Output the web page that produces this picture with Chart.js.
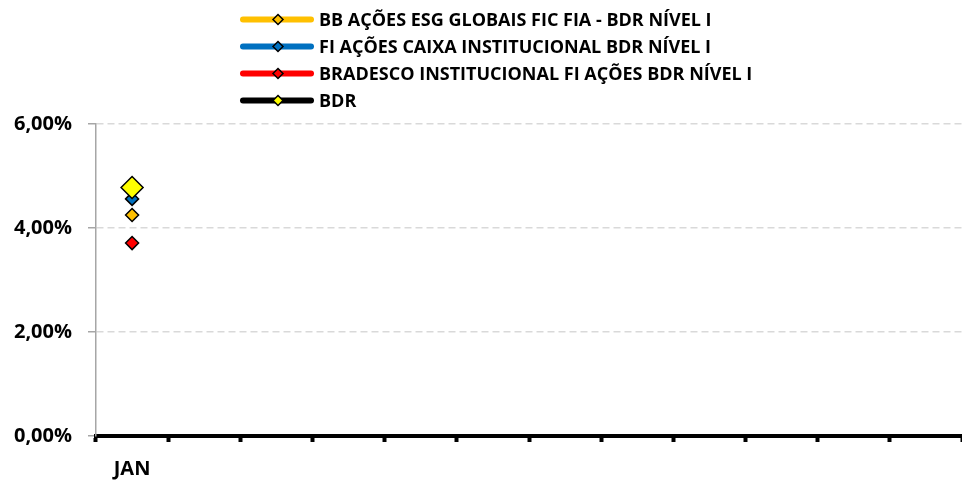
<!DOCTYPE html>
<html>
<head>
<meta charset="utf-8">
<script src="https://cdn.jsdelivr.net/npm/chart.js@4/dist/chart.umd.min.js"></script>
<style>
  html, body { margin: 0; padding: 0; overflow: hidden; background: #fff; }
  #wrap { width: 962px; height: 481px; position: relative; }
  #wrap canvas { display: block; }
</style>
</head>
<body>
<div id="wrap"><canvas id="chart"></canvas></div>
<script>
// months on the x axis (only JAN carries a label in the original)
const months = ["JAN", "", "", "", "", "", "", "", "", "", "", ""];

// monthly returns, % (only January is filled)
const bbEsg = [4.25, null, null, null, null, null, null, null, null, null, null, null];
const caixaInst = [4.56, null, null, null, null, null, null, null, null, null, null, null];
const bradescoInst = [3.71, null, null, null, null, null, null, null, null, null, null, null];
const bdrIndex = [4.78, null, null, null, null, null, null, null, null, null, null, null];

const seriesNames = [
  "BB AÇÕES ESG GLOBAIS FIC FIA - BDR NÍVEL I",
  "FI AÇÕES CAIXA INSTITUCIONAL BDR NÍVEL I",
  "BRADESCO INSTITUCIONAL FI AÇÕES BDR NÍVEL I",
  "BDR",
];

const yTicks = [0, 2, 4, 6];

const FONT = "'Open Sans', Lato, sans-serif";

// legend drawn by hand: thick line with a diamond marker in the middle
const legendPlugin = {
  id: "sideLegend",
  afterDraw(chart) {
    const ctx = chart.ctx;
    ctx.save();
    chart.data.datasets.forEach((ds, i) => {
      const y = 19.5 + i * 27;
      ctx.lineCap = "round";
      ctx.lineWidth = 6;
      ctx.strokeStyle = ds.legendLine;
      ctx.beginPath();
      ctx.moveTo(243, y);
      ctx.lineTo(311, y);
      ctx.stroke();
      // marker
      const cx = 278, r = 5;
      ctx.beginPath();
      ctx.moveTo(cx, y - r);
      ctx.lineTo(cx + r, y);
      ctx.lineTo(cx, y + r);
      ctx.lineTo(cx - r, y);
      ctx.closePath();
      ctx.fillStyle = ds.backgroundColor;
      ctx.fill();
      ctx.lineWidth = 1.5;
      ctx.strokeStyle = "#000";
      ctx.stroke();
      ctx.font = "bold 18px " + FONT;
      ctx.fillStyle = "#000";
      ctx.textBaseline = "middle";
      ctx.textAlign = "left";
      ctx.fillText(seriesNames[i], 319, y + 1);
    });
    ctx.restore();
  },
};

function makeSet(i, data, fill, line, radius, order) {
  return {
    label: seriesNames[i],
    data: data,
    showLine: false,
    pointStyle: "rectRot",
    pointRadius: radius,
    pointHoverRadius: radius,
    backgroundColor: fill,
    borderColor: "#000",
    pointBorderWidth: 1.5,
    legendLine: line,
    order: order,
  };
}

new Chart(document.getElementById("chart"), {
  type: "line",
  data: {
    labels: months,
    datasets: [
      makeSet(0, bbEsg, "#FFC000", "#FFC000", 6.5, 2),
      makeSet(1, caixaInst, "#0070C0", "#0070C0", 6.5, 1),
      makeSet(2, bradescoInst, "#FF0000", "#FF0000", 6.5, 3),
      makeSet(3, bdrIndex, "#FFFF00", "#000000", 11, 0),
    ],
  },
  plugins: [legendPlugin],
  options: {
    responsive: true,
    maintainAspectRatio: false,
    animation: false,
    events: [],
    layout: { autoPadding: false, padding: { top: 124, right: 0, bottom: 0, left: 0 } },
    plugins: {
      legend: { display: false },
      tooltip: { enabled: false },
    },
    scales: {
      x: {
        offset: true,
        grid: {
          offset: true,
          drawOnChartArea: false,
          drawTicks: true,
          tickLength: 6,
          tickColor: "#000",
          tickWidth: 4,
        },
        border: { color: "#000", width: 4 },
        ticks: {
          color: "#000",
          font: { family: FONT, size: 20, weight: "bold" },
          padding: 15,
          maxRotation: 0,
          autoSkip: false,
        },
        afterFit(scale) { scale.height = 45; },
      },
      y: {
        min: 0,
        max: 6,
        afterBuildTicks(scale) {
          scale.ticks = yTicks.map((v) => ({ value: v }));
        },
        grid: {
          color: "#d9d9d9",
          lineWidth: 1.5,
          tickColor: "#a6a6a6",
          tickBorderDash: [],
          tickLength: 8,
        },
        border: { color: "#a6a6a6", width: 1.5, dash: [7, 4] },
        ticks: {
          color: "#000",
          padding: 16,
          font: { family: FONT, size: 20, weight: "bold" },
          callback: (v) => v.toFixed(2).replace(".", ",") + "%",
        },
        afterFit(scale) { scale.width = 96; },
      },
    },
  },
});
</script>
</body>
</html>
